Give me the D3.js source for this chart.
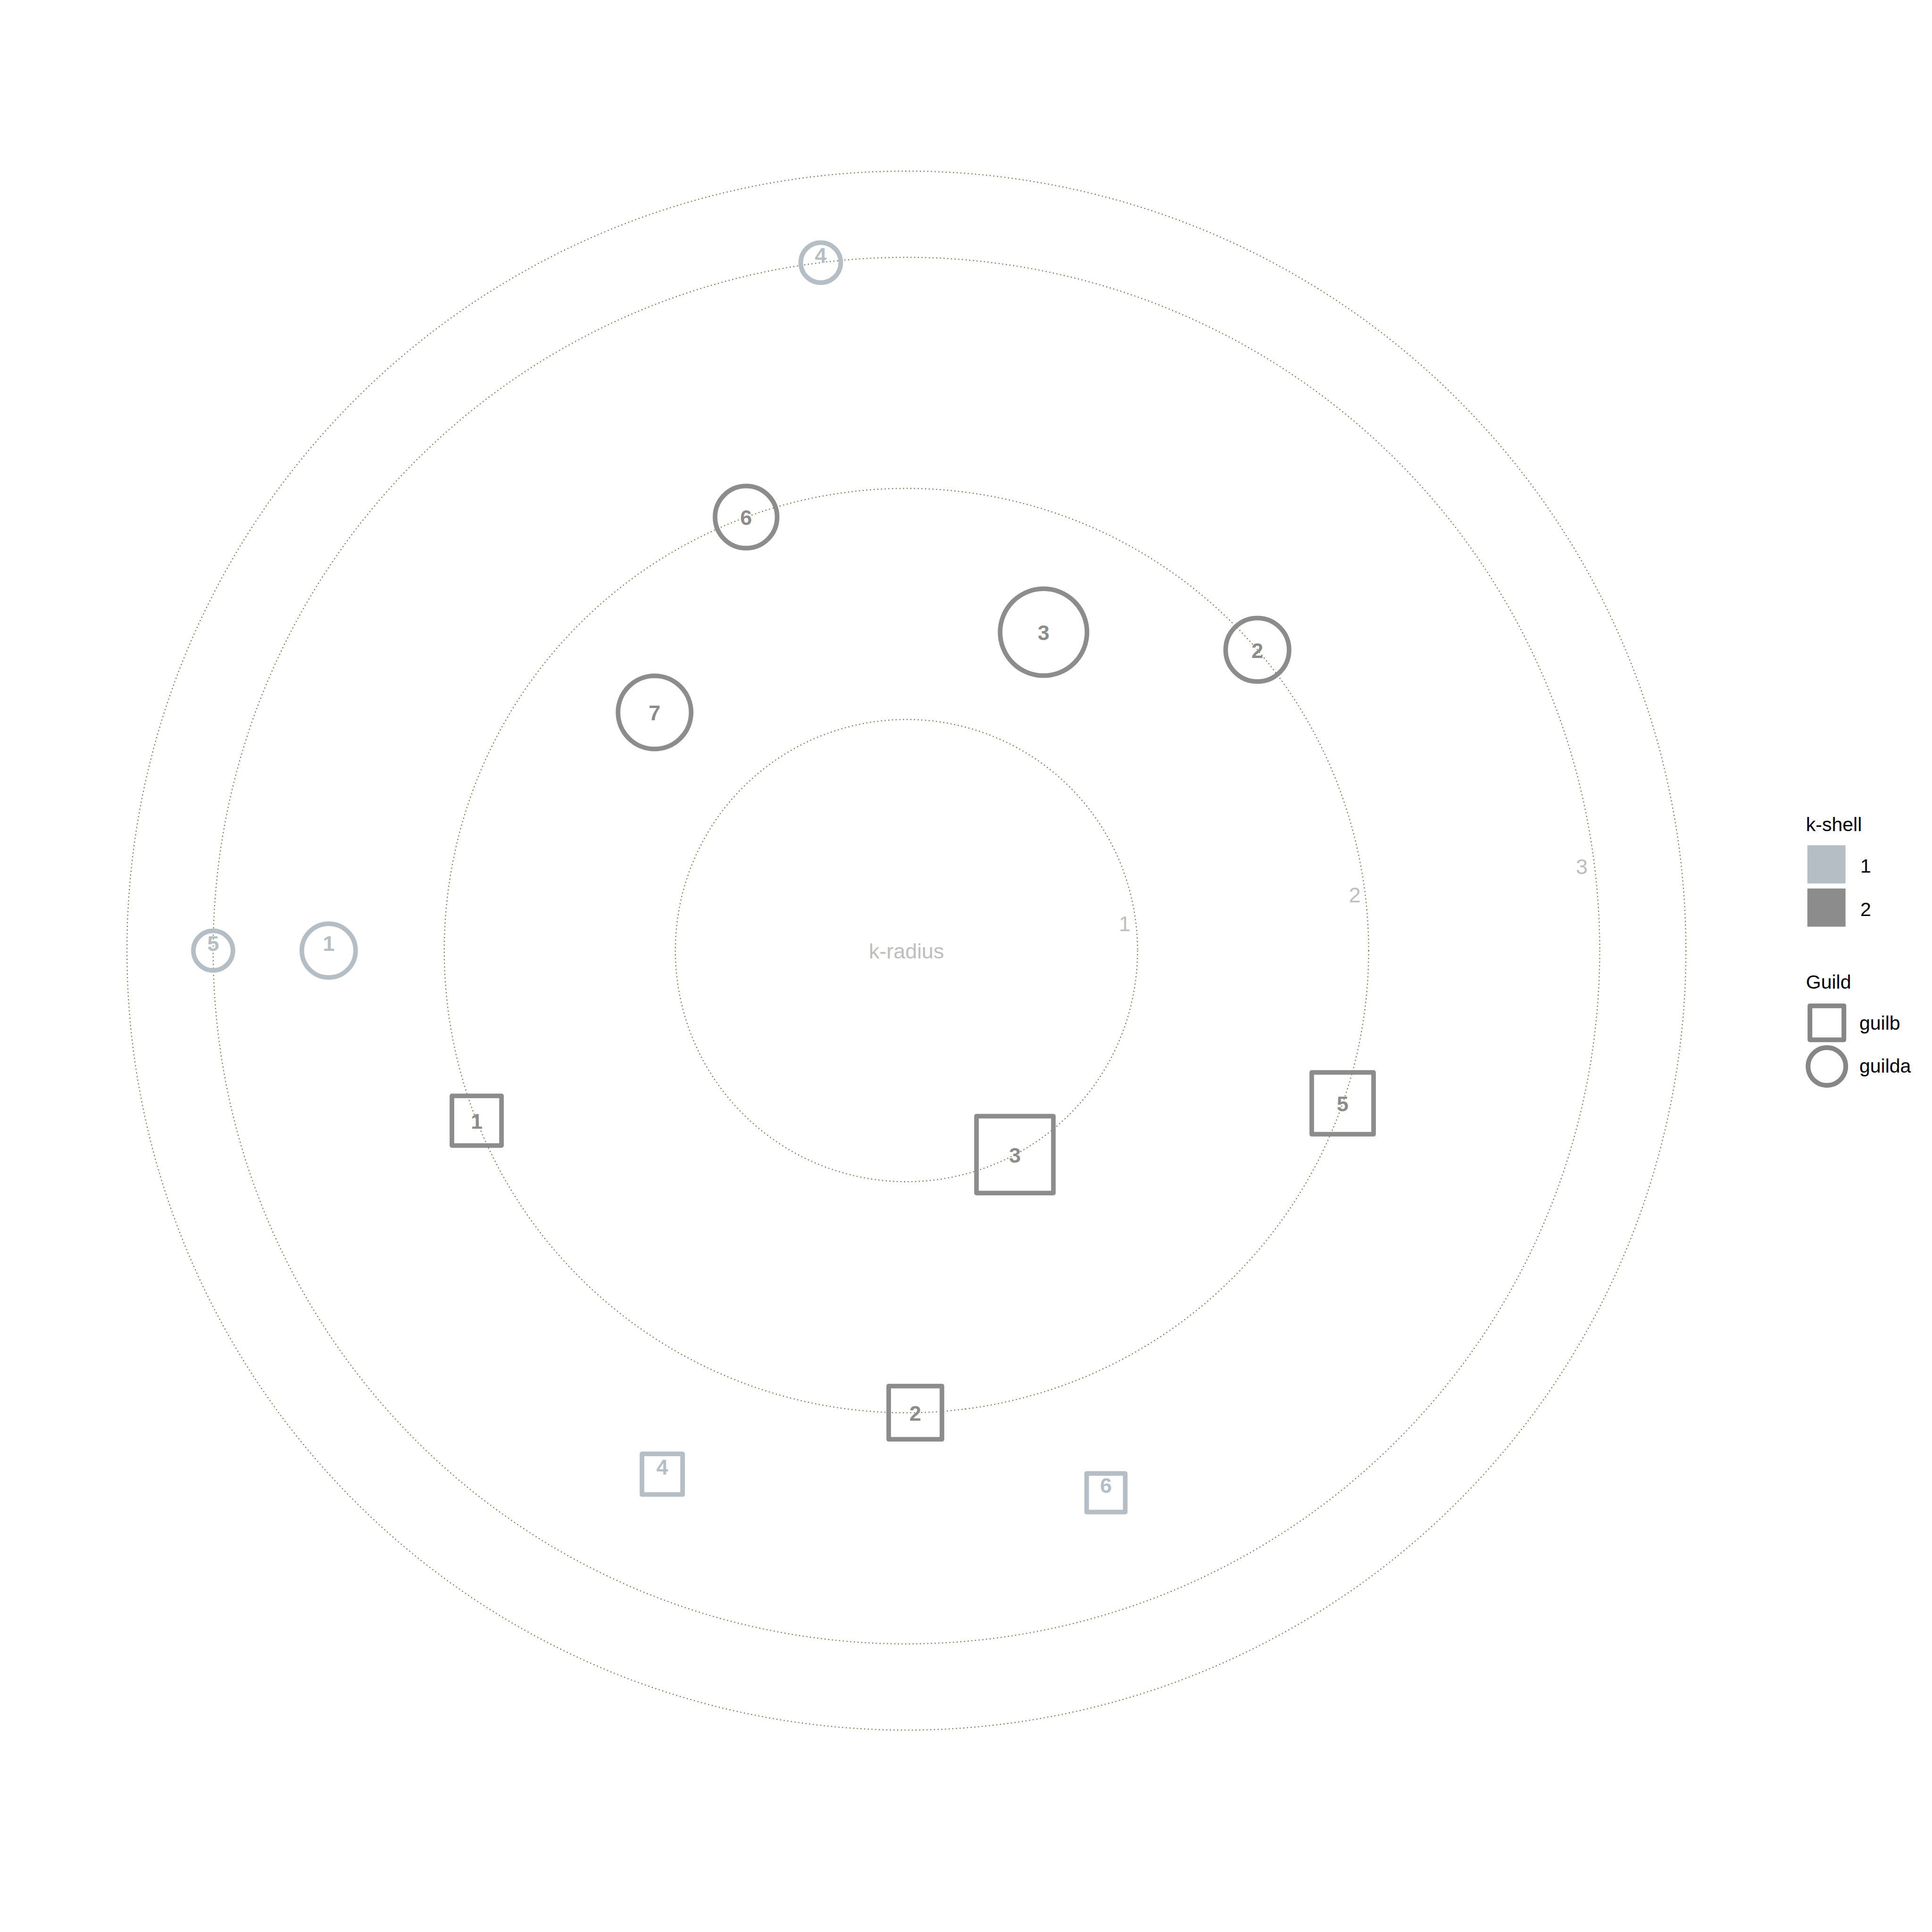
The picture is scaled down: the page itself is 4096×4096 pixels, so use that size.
<!DOCTYPE html>
<html>
<head>
<meta charset="utf-8">
<script src="https://cdn.jsdelivr.net/npm/d3@7"></script>
<style>
  html, body { margin: 0; padding: 0; background: #ffffff; }
  svg { display: block; }
  text { font-family: "Liberation Sans", Arial, sans-serif; }
</style>
</head>
<body>
<script>
// ---------------- data ----------------
const ringRadii = [1, 2, 3, 3.373];
const ringLabels = ["1", "2", "3"];
const ringLabelRadii = [0.952, 1.955, 2.945];
const ringLabelAngle = 7.1;

const nodeGuild   = ["guilda","guilda","guilda","guilda","guilda","guilda","guilda",
                     "guilb","guilb","guilb","guilb","guilb","guilb"];
const nodeLabel   = ["4","5","1","6","2","3","7", "3","4","6","1","5","2"];
const nodeKshell  = [1,1,1,2,2,2,2, 2,1,1,2,2,2];
const nodeKradius = [3,3,2.5,2,2,1.5,1.5, 1,2.5,2.5,2,2,2];
const nodeAngle   = [97.1,180,180,110.3,40.6,66.7,136.6, -62.0,-115.0,-69.8,-158.4,-19.3,-88.9];
const nodeSize    = [9.7,9.6,12.7,14.5,14.8,19.9,16.9, 20.0,11.1,10.6,13.3,16.3,14.2];

const kshellLevels = [1, 2];
const kshellColors = ["#B6BEC5", "#8C8C8C"];
const guildLevels = ["guilb", "guilda"];

// ---------------- layout ----------------
const W = 4096, H = 4096;
const S = 0.975;
const cx = 1971 * S, cy = 2067 * S, unit = 502.5 * S;

const svg = d3.select("body").append("svg")
  .attr("width", W).attr("height", H)
  .attr("viewBox", `0 0 ${W} ${H}`);
svg.append("rect").attr("width", W).attr("height", H).attr("fill", "#ffffff");

const x = d3.scaleLinear().domain([-1, 1]).range([cx - unit, cx + unit]);
const y = d3.scaleLinear().domain([-1, 1]).range([cy + unit, cy - unit]);
const r = d3.scaleLinear().domain([0, 1]).range([0, unit]);
const color = d3.scaleOrdinal().domain(kshellLevels).range(kshellColors);
const diam = d3.scaleLinear().domain([0, 1]).range([0, 10 * S]);
const strokeW = 10 * S;

const rad = a => a * Math.PI / 180;

// rings
svg.append("g").selectAll("circle").data(ringRadii).join("circle")
  .attr("cx", x(0)).attr("cy", y(0))
  .attr("r", d => r(d))
  .attr("fill", "none")
  .attr("stroke", "#6A7D4A")
  .attr("stroke-width", 2.3)
  .attr("stroke-dasharray", "2.3,5.5");

// ring labels
svg.append("g").selectAll("text").data(ringLabels).join("text")
  .attr("x", (d, i) => x(ringLabelRadii[i] * Math.cos(rad(ringLabelAngle))))
  .attr("y", (d, i) => y(ringLabelRadii[i] * Math.sin(rad(ringLabelAngle))))
  .attr("dy", "0.36em")
  .attr("text-anchor", "middle")
  .attr("font-size", 46 * S)
  .attr("fill", "#BEBEBE")
  .text(d => d);

svg.append("text")
  .attr("x", x(0)).attr("y", y(0))
  .attr("dy", "0.38em")
  .attr("text-anchor", "middle")
  .attr("font-size", 46 * S)
  .attr("fill", "#BEBEBE")
  .text("k-radius");

// nodes
const nodes = nodeLabel.map((lab, i) => ({
  label: lab, guild: nodeGuild[i], kshell: nodeKshell[i],
  px: x(nodeKradius[i] * Math.cos(rad(nodeAngle[i]))),
  py: y(nodeKradius[i] * Math.sin(rad(nodeAngle[i]))),
  D: diam(nodeSize[i])
}));

const gNodes = svg.append("g");
gNodes.selectAll("circle").data(nodes.filter(d => d.guild === "guilda")).join("circle")
  .attr("cx", d => d.px).attr("cy", d => d.py)
  .attr("r", d => (d.D - strokeW) / 2)
  .attr("fill", "none")
  .attr("stroke", d => color(d.kshell))
  .attr("stroke-width", strokeW);

gNodes.selectAll("rect").data(nodes.filter(d => d.guild === "guilb")).join("rect")
  .attr("x", d => d.px - (d.D * 0.886 - strokeW) / 2)
  .attr("y", d => d.py - (d.D * 0.886 - strokeW) / 2)
  .attr("width", d => d.D * 0.886 - strokeW)
  .attr("height", d => d.D * 0.886 - strokeW)
  .attr("fill", "none")
  .attr("stroke", d => color(d.kshell))
  .attr("stroke-linejoin", "round")
  .attr("stroke-width", strokeW);

svg.append("g").selectAll("text").data(nodes).join("text")
  .attr("x", d => d.px)
  .attr("y", d => d.py + (d.kshell === 1 ? -17 * S : 0))
  .attr("dy", "0.38em")
  .attr("text-anchor", "middle")
  .attr("font-size", 46 * S)
  .attr("font-weight", "bold")
  .attr("fill", d => color(d.kshell))
  .text(d => d.label);

// ---------------- legend ----------------
const leg = svg.append("g");
const fs = 41;
leg.append("text").attr("x", 3927 * S).attr("y", 1807 * S)
  .attr("font-size", fs).attr("fill", "#000").text("k-shell");
const keyY = [1838 * S, 1932 * S];
const keyLabY = [1897 * S, 1992 * S];
leg.selectAll("rect.k").data(kshellLevels).join("rect").attr("class", "k")
  .attr("x", 3930 * S).attr("y", (d, i) => keyY[i])
  .attr("width", 83 * S).attr("height", 83 * S)
  .attr("fill", d => color(d));
leg.selectAll("text.kl").data(kshellLevels).join("text").attr("class", "kl")
  .attr("x", 4045 * S).attr("y", (d, i) => keyLabY[i])
  .attr("font-size", fs).attr("fill", "#000").text(d => d);

leg.append("text").attr("x", 3927 * S).attr("y", 2150 * S)
  .attr("font-size", fs).attr("fill", "#000").text("Guild");
const gKeyCY = [2224 * S, 2319 * S];
const gLabY = [2239 * S, 2332.5 * S];
const gKeyX = 3972.5 * S;
leg.append("rect")
  .attr("x", gKeyX - 36).attr("y", gKeyCY[0] - 36)
  .attr("width", 72).attr("height", 72)
  .attr("fill", "none").attr("stroke", "#868686")
  .attr("stroke-width", 10).attr("stroke-linejoin", "round");
leg.append("circle")
  .attr("cx", gKeyX).attr("cy", gKeyCY[1]).attr("r", 40)
  .attr("fill", "none").attr("stroke", "#868686").attr("stroke-width", 10);
leg.selectAll("text.gl").data(guildLevels).join("text").attr("class", "gl")
  .attr("x", 4043 * S).attr("y", (d, i) => gLabY[i])
  .attr("font-size", fs).attr("fill", "#000").text(d => d);
</script>
</body>
</html>
